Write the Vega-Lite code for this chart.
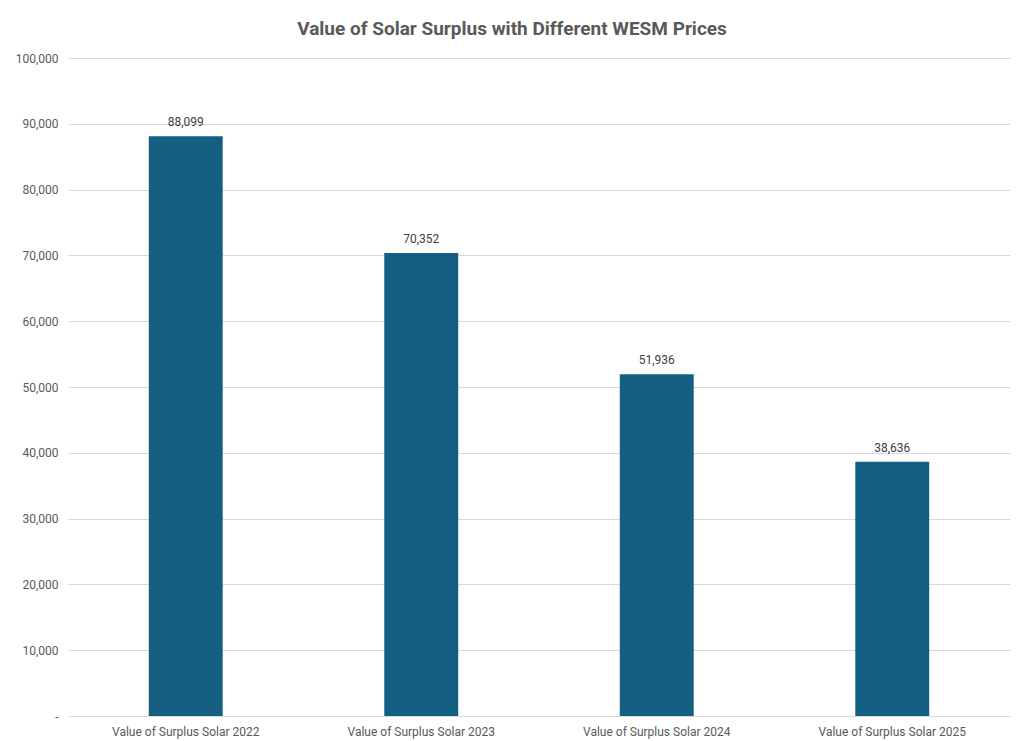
{
  "$schema": "https://vega.github.io/schema/vega-lite/v6.json",
  "autosize": {"type": "none"},
  "width": 942,
  "height": 658,
  "padding": {"left": 68, "top": 58, "right": 14, "bottom": 25},
  "background": "white",
  "title": {
    "text": "Value of Solar Surplus with Different WESM Prices",
    "font": "Roboto",
    "fontSize": 19,
    "fontWeight": "bold",
    "color": "#595959",
    "anchor": "middle",
    "dx": -27,
    "offset": 13
  },
  "data": {
    "values": [
      {"category": "Value of Surplus Solar 2022", "value": 88099},
      {"category": "Value of Surplus Solar 2023", "value": 70352},
      {"category": "Value of Surplus Solar 2024", "value": 51936},
      {"category": "Value of Surplus Solar 2025", "value": 38636}
    ]
  },
  "config": {
    "view": {"stroke": null},
    "font": "Roboto"
  },
  "encoding": {
    "x": {
      "field": "category",
      "type": "nominal",
      "sort": null,
      "scale": {"paddingInner": 0.686, "paddingOuter": 0.343},
      "axis": {
        "title": null,
        "labelAngle": 0,
        "labelFontSize": 12,
        "labelColor": "#595959",
        "labelPadding": 10,
        "ticks": false,
        "domainColor": "#d9d9d9",
        "domainWidth": 1
      }
    },
    "y": {
      "field": "value",
      "type": "quantitative",
      "scale": {"domain": [0, 100000]},
      "axis": {
        "title": null,
        "values": [0, 10000, 20000, 30000, 40000, 50000, 60000, 70000, 80000, 90000, 100000],
        "labelExpr": "datum.value == 0 ? '-' : format(datum.value, ',')",
        "labelFontSize": 12,
        "labelColor": "#595959",
        "labelPadding": 10,
        "ticks": false,
        "domain": false,
        "gridColor": "#d9d9d9",
        "gridWidth": 1
      }
    }
  },
  "layer": [
    {"mark": {"type": "bar", "color": "#156082"}},
    {
      "mark": {"type": "text", "baseline": "bottom", "dy": -7, "fontSize": 12, "color": "#404040"},
      "encoding": {"text": {"field": "value", "type": "quantitative", "format": ","}}
    }
  ]
}
